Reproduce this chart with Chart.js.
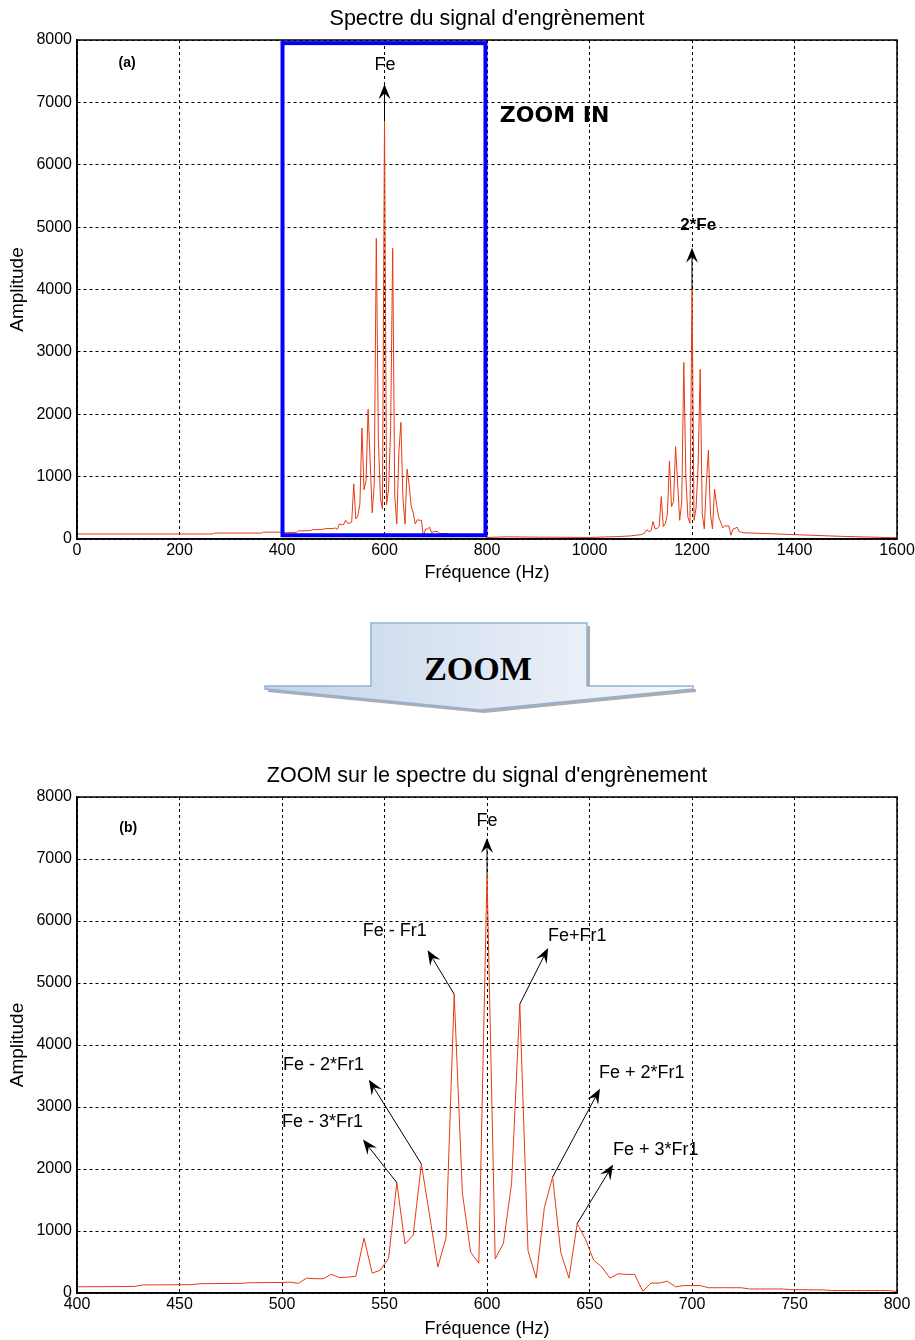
<!DOCTYPE html>
<html>
<head>
<meta charset="utf-8">
<script src="https://cdn.jsdelivr.net/npm/chart.js@4.4.1/dist/chart.umd.min.js"></script>
<style>
  body { margin: 0; background: #fff; width: 915px; height: 1340px; position: relative; overflow: hidden; }
  #c1 { position: absolute; left: 0; top: 0; }
  #c2 { position: absolute; left: 0; top: 757px; }
  #zoomArrow { position: absolute; left: 0; top: 600px; }
</style>
</head>
<body>
<canvas id="c1" width="919" height="590" style="width:919px;height:590px"></canvas>

<svg id="zoomArrow" width="915" height="130">
  <defs>
    <linearGradient id="g1" x1="0" y1="0" x2="1" y2="0">
      <stop offset="0" stop-color="#c3d4ea"/>
      <stop offset="1" stop-color="#f7f9fc"/>
    </linearGradient>
  </defs>
  <path d="M268,89 L374,89 L374,26 L590,26 L590,89 L696,89 L696,92 L484,113 L268,92 Z" fill="#8a8a8a" opacity="0.7"/>
  <path d="M265,86 L371,86 L371,23 L587,23 L587,86 L693,86 L693,89 L481,110 L265,89 Z" fill="url(#g1)" stroke="#93b1d6" stroke-width="1.5"/>
  <text x="478" y="80" font-family="'Liberation Serif', serif" font-weight="bold" font-size="34" text-anchor="middle" fill="#000">ZOOM</text>
</svg>

<canvas id="c2" width="919" height="583" style="width:919px;height:583px"></canvas>

<script>
// ---- DATA ----
// spectrum 400..800 Hz, used by both charts
const zoomFreq = [400,428,432,456,460,480,484,500,504,508,512,516,520,524,528,532,536,540,544,548,
                  552,556,560,564,568,576,580,584,588,592,596,600,604,608,612,616,620,624,628,632,
                  636,640,644,648,652,656,660,664,668,672,676,680,684,688,692,696,704,708,724,728,
                  744,748,764,768,796,800];
const zoomAmp  = [100,105,130,135,150,155,165,170,175,155,240,230,230,300,250,255,270,885,320,370,
                  560,1780,790,935,2080,420,885,4820,1610,660,480,6750,550,800,1770,4660,680,240,1380,1870,
                  650,240,1120,870,530,420,240,310,300,300,30,160,160,190,100,120,120,85,85,65,
                  65,55,50,40,40,25];

// rest of the full spectrum
const lowFreq  = [0,264,268,360,364,396];
const lowAmp   = [80,80,95,95,110,110];
const midFreq  = [840,900,1000,1060,1080,1100,1104];
const midAmp   = [35,30,25,40,50,70,80];
const harmFreq = [1108,1112,1116,1120,1124,1128,1132,1136,1140,1144,1148,1152,1156,1160,1164,1168,1176,1180,1184,1188,
                  1192,1196,1200,1204,1208,1212,1216,1220,1224,1228,1232,1236,1240,1244,1248,1252,1256,1260,1264,1268,
                  1272,1276,1280,1284,1288,1292,1296];
const harmAmp  = [100,150,120,130,280,160,170,200,680,200,250,400,1250,520,600,1480,300,600,2830,1000,
                  350,250,4000,300,500,1200,2720,400,160,900,1425,400,160,800,550,350,270,180,210,210,
                  210,60,160,170,190,120,110];
const tailFreq = [1300,1400,1500,1600];
const tailAmp  = [100,70,40,20];

const ampTicks = [0,1000,2000,3000,4000,5000,6000,7000,8000];

function toPoints(fs, as) { return fs.map((f, i) => ({ x: f, y: as[i] })); }

const fullPoints = [].concat(
  toPoints(lowFreq, lowAmp), toPoints(zoomFreq, zoomAmp), toPoints(midFreq, midAmp),
  toPoints(harmFreq, harmAmp), toPoints(tailFreq, tailAmp));
const zoomPoints = toPoints(zoomFreq, zoomAmp);

// ---- annotations, in data units ----
const SANS = "'Liberation Sans', Arial, sans-serif";
const notesTop = {
  title: "Spectre du signal d'engrènement",
  rect: [401, 797, 60, 7950],
  arrows: [[600, 6700, 600, 7290], [1200, 4000, 1200, 4670]],
  texts: [
    { x: 601, y: 7596, t: 'Fe', font: '18px ' + SANS, align: 'center' },
    { x: 1212, y: 5032, t: '2*Fe', font: 'bold 17px ' + SANS, align: 'center' },
    { x: 97.6, y: 7628, t: '(a)', font: 'bold 14px ' + SANS, align: 'center' },
    { x: 825, y: 6779, t: 'ZOOM IN', font: "bold 22px 'DejaVu Sans', sans-serif", align: 'left' }
  ]
};
const notesBottom = {
  title: "ZOOM sur le spectre du signal d'engrènement",
  arrows: [
    [600, 6750, 600, 7340], [584, 4820, 571, 5530], [616, 4660, 629.8, 5565],
    [568, 2080, 542.4, 3440], [556, 1780, 539.5, 2474],
    [632, 1870, 655.1, 3295], [644, 1120, 661.5, 2071]
  ],
  texts: [
    { x: 600, y: 7617, t: 'Fe', font: '18px ' + SANS, align: 'center' },
    { x: 555, y: 5845, t: 'Fe - Fr1', font: '18px ' + SANS, align: 'center' },
    { x: 629.8, y: 5765, t: 'Fe+Fr1', font: '18px ' + SANS, align: 'left' },
    { x: 500.5, y: 3671, t: 'Fe - 2*Fr1', font: '18px ' + SANS, align: 'left' },
    { x: 500, y: 2754, t: 'Fe - 3*Fr1', font: '18px ' + SANS, align: 'left' },
    { x: 654.6, y: 3543, t: 'Fe + 2*Fr1', font: '18px ' + SANS, align: 'left' },
    { x: 661.5, y: 2303, t: 'Fe + 3*Fr1', font: '18px ' + SANS, align: 'left' },
    { x: 425, y: 7504, t: '(b)', font: 'bold 14px ' + SANS, align: 'center' }
  ]
};

function drawArrow(ctx, x1, y1, x2, y2) {
  const a = Math.atan2(y2 - y1, x2 - x1), L = 15, W = 6;
  ctx.beginPath();
  ctx.moveTo(x1, y1);
  ctx.lineTo(x2 - Math.cos(a) * 8, y2 - Math.sin(a) * 8);
  ctx.stroke();
  ctx.save();
  ctx.translate(x2, y2);
  ctx.rotate(a);
  ctx.beginPath();
  ctx.moveTo(0, 0);
  ctx.lineTo(-L, -W);
  ctx.lineTo(-L * 0.62, 0);
  ctx.lineTo(-L, W);
  ctx.closePath();
  ctx.fill();
  ctx.restore();
}

// title over the plot area, frame + annotations
function makeDeco(notes) {
  return {
    id: 'deco',
    afterDatasetsDraw(chart) {
      const { ctx, chartArea: a, scales: { x, y } } = chart;
      ctx.save();
      if (notes.rect) {
        const r = notes.rect;
        ctx.strokeStyle = '#0000ff';
        ctx.lineWidth = 4;
        ctx.strokeRect(x.getPixelForValue(r[0]), y.getPixelForValue(r[3]),
          x.getPixelForValue(r[1]) - x.getPixelForValue(r[0]),
          y.getPixelForValue(r[2]) - y.getPixelForValue(r[3]));
      }
      ctx.strokeStyle = '#000';
      ctx.lineWidth = 1.5;
      ctx.strokeRect(a.left, a.top, a.right - a.left, a.bottom - a.top);
      ctx.fillStyle = '#000';
      ctx.lineWidth = 1;
      notes.arrows.forEach(p => drawArrow(ctx,
        x.getPixelForValue(p[0]), y.getPixelForValue(p[1]),
        x.getPixelForValue(p[2]), y.getPixelForValue(p[3])));
      ctx.textBaseline = 'middle';
      notes.texts.forEach(n => {
        ctx.font = n.font;
        ctx.textAlign = n.align;
        ctx.fillText(n.t, x.getPixelForValue(n.x), y.getPixelForValue(n.y));
      });
      ctx.font = '21.5px ' + SANS;
      ctx.textAlign = 'center';
      ctx.fillText(notes.title, (a.left + a.right) / 2, a.top - 21);
      ctx.restore();
    }
  };
}

Chart.defaults.font.family = SANS;
Chart.defaults.color = '#000';

function makeChart(id, points, xMin, xMax, xStep, xAxisH, xTitlePad, notes) {
  return new Chart(document.getElementById(id), {
    type: 'line',
    data: {
      datasets: [{
        data: points,
        borderColor: 'rgb(232,58,20)',
        borderWidth: 1,
        pointRadius: 0,
        tension: 0,
        fill: false
      }]
    },
    options: {
      responsive: false,
      animation: false,
      layout: { padding: { left: 0, right: 22, top: 40, bottom: 0 } },
      plugins: {
        legend: { display: false },
        tooltip: { enabled: false },
        title: { display: false }
      },
      scales: {
        x: {
          type: 'linear',
          min: xMin, max: xMax,
          afterFit(s) { s.height = xAxisH; },
          ticks: { stepSize: xStep, font: { size: 16 }, padding: 2, maxRotation: 0, autoSkip: false,
                   callback: v => String(v) },
          grid: { color: '#000', lineWidth: 1, drawTicks: false },
          border: { display: true, color: '#000', width: 1.5, dash: [3, 3] },
          title: { display: true, text: 'Fréquence (Hz)', font: { size: 18, lineHeight: 1.2 }, padding: { top: 0, bottom: xTitlePad } }
        },
        y: {
          min: 0, max: 8000,
          afterFit(s) { s.width = 77; },
          afterBuildTicks(s) { s.ticks = ampTicks.map(v => ({ value: v })); },
          ticks: { font: { size: 16 }, padding: 5, callback: v => String(v) },
          grid: { color: '#000', lineWidth: 1, drawTicks: false },
          border: { display: true, color: '#000', width: 1.5, dash: [3, 3] },
          title: { display: true, text: 'Amplitude', font: { size: 19, lineHeight: 1.2 }, padding: { top: 6.6, bottom: 0 } }
        }
      }
    },
    plugins: [makeDeco(notes)]
  });
}

makeChart('c1', fullPoints, 0, 1600, 200, 51, 6.2, notesTop);
makeChart('c2', zoomPoints, 400, 800, 50, 47, 0.2, notesBottom);
</script>
</body>
</html>
